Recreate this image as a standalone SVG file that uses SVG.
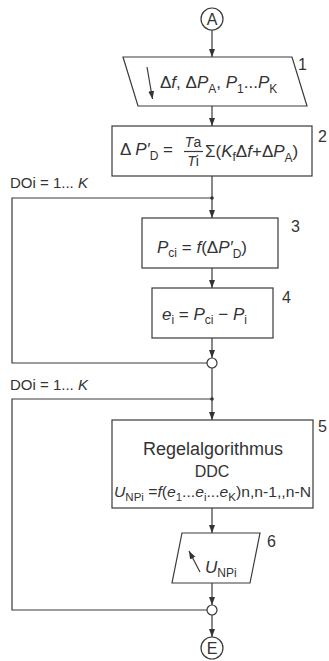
<svg xmlns="http://www.w3.org/2000/svg" width="329" height="661" viewBox="0 0 329 661">
<defs>
<marker id="arr" markerUnits="userSpaceOnUse" markerWidth="10" markerHeight="8" refX="8" refY="3" orient="auto">
<path d="M0,0 L8,3 L0,6 z" fill="#333"/>
</marker>
<style>
.ln{fill:none;stroke:#3a3a3a;stroke-width:1.2}
.sh{fill:#fff;stroke:#3a3a3a;stroke-width:1.2}
.t{font-family:"Liberation Sans",Arial,sans-serif;fill:#333}
.i{font-style:italic}
.lb{font-family:"Liberation Sans",Arial,sans-serif;fill:#333;font-size:16px}
</style>
</defs>
<rect width="329" height="661" fill="#fff"/>
<g id="connectors">
<line class="ln" x1="212" y1="30" x2="212" y2="57" marker-end="url(#arr)"/>
<line class="ln" x1="212" y1="106" x2="212" y2="126" marker-end="url(#arr)"/>
<line class="ln" x1="212" y1="176" x2="212" y2="218" marker-end="url(#arr)"/>
<line class="ln" x1="212" y1="268" x2="212" y2="288" marker-end="url(#arr)"/>
<line class="ln" x1="212" y1="338" x2="212" y2="358" marker-end="url(#arr)"/>
<line class="ln" x1="212" y1="368" x2="212" y2="420" marker-end="url(#arr)"/>
<line class="ln" x1="212" y1="508" x2="212" y2="533" marker-end="url(#arr)"/>
<line class="ln" x1="212" y1="583" x2="212" y2="605" marker-end="url(#arr)"/>
<line class="ln" x1="212" y1="615" x2="212" y2="637" marker-end="url(#arr)"/>
<path class="ln" d="M212,198 H12 V363 H207"/>
<path class="ln" d="M212,399 H12 V610 H207"/>
<circle cx="212" cy="198" r="1.8" fill="#333"/>
<circle cx="212" cy="399" r="1.8" fill="#333"/>
<text class="t" x="10" y="188" font-size="15">DOi = 1... <tspan class="i">K</tspan></text>
<text class="t" x="10" y="390" font-size="15">DOi = 1... <tspan class="i">K</tspan></text>
</g>
<g id="start">
<circle class="sh" cx="212" cy="19" r="11"/>
<text class="t" x="212" y="25" font-size="16" text-anchor="middle">A</text>
</g>
<g id="n1">
<polygon class="sh" points="123,57 292,57 307,106 138,106"/>
<line class="ln" x1="147" y1="67" x2="152.5" y2="99" marker-end="url(#arr)"/>
<text class="t" x="160" y="88" font-size="17">Δ<tspan class="i">f</tspan>, Δ<tspan class="i">P</tspan><tspan font-size="12" dy="5">A</tspan><tspan dy="-5">, </tspan><tspan class="i">P</tspan><tspan font-size="12" dy="5">1</tspan><tspan dy="-5">...</tspan><tspan class="i">P</tspan><tspan font-size="12" dy="5">K</tspan></text>
<text class="lb" x="298" y="70">1</text>
</g>
<g id="n2">
<rect class="sh" x="112" y="126" width="200" height="50"/>
<text class="t" x="120" y="155" font-size="17">Δ <tspan class="i">P′</tspan><tspan font-size="12" dy="5">D</tspan><tspan dy="-5"> =</tspan></text>
<text class="t" x="193" y="147" font-size="14" text-anchor="middle"><tspan class="i">T</tspan>a</text>
<line class="ln" x1="184" y1="151.5" x2="203" y2="151.5" stroke-width="0.8"/>
<text class="t" x="193" y="166" font-size="14" text-anchor="middle"><tspan class="i">T</tspan>i</text>
<text class="t" x="205" y="157" font-size="17">Σ(<tspan class="i">K</tspan><tspan font-size="12" dy="4">f</tspan><tspan dy="-4">Δ</tspan><tspan class="i">f</tspan>+Δ<tspan class="i">P</tspan><tspan font-size="12" dy="5">A</tspan><tspan dy="-5">)</tspan></text>
<text class="lb" x="318" y="142">2</text>
</g>
<g id="n3">
<rect class="sh" x="142" y="218" width="136" height="50"/>
<text class="t" x="157" y="253" font-size="17"><tspan class="i">P</tspan><tspan font-size="12" dy="4">ci</tspan><tspan dy="-4"> = </tspan><tspan class="i">f</tspan>(Δ<tspan class="i">P′</tspan><tspan font-size="12" dy="5">D</tspan><tspan dy="-5">)</tspan></text>
<text class="lb" x="291" y="232">3</text>
</g>
<g id="n4">
<rect class="sh" x="152" y="288" width="121" height="50"/>
<text class="t" x="162" y="320" font-size="17"><tspan class="i">e</tspan><tspan font-size="12" dy="4">i</tspan><tspan dy="-4"> = </tspan><tspan class="i">P</tspan><tspan font-size="12" dy="4">ci</tspan><tspan dy="-4"> − </tspan><tspan class="i">P</tspan><tspan font-size="12" dy="4">i</tspan></text>
<text class="lb" x="282" y="303">4</text>
</g>
<g id="j1">
<circle class="sh" cx="212" cy="363" r="5"/>
</g>
<g id="n5">
<rect class="sh" x="112" y="420" width="201" height="88"/>
<text class="t" x="213" y="455" font-size="18" text-anchor="middle">Regelalgorithmus</text>
<text class="t" x="212" y="477" font-size="16" text-anchor="middle">DDC</text>
<text class="t" x="114" y="497" font-size="15" textLength="197" lengthAdjust="spacingAndGlyphs"><tspan class="i">U</tspan><tspan font-size="11" dy="4">NPi</tspan><tspan dy="-4"> =</tspan><tspan class="i">f</tspan>(<tspan class="i">e</tspan><tspan font-size="11" dy="4">1</tspan><tspan dy="-4">...</tspan><tspan class="i">e</tspan><tspan font-size="11" dy="4">i</tspan><tspan dy="-4">...</tspan><tspan class="i">e</tspan><tspan font-size="11" dy="4">K</tspan><tspan dy="-4">)n,n-1,,n-N</tspan></text>
<text class="lb" x="318" y="432">5</text>
</g>
<g id="n6">
<polygon class="sh" points="182,533 260,533 250,583 172,583"/>
<line class="ln" x1="200" y1="572" x2="189" y2="551" marker-end="url(#arr)"/>
<text class="t" x="205" y="573" font-size="17"><tspan class="i">U</tspan><tspan font-size="12" dy="4">NPi</tspan></text>
<text class="lb" x="267" y="547">6</text>
</g>
<g id="j2">
<circle class="sh" cx="212" cy="610" r="5"/>
</g>
<g id="end">
<circle class="sh" cx="212" cy="648" r="11"/>
<text class="t" x="212" y="654" font-size="16" text-anchor="middle">E</text>
</g>
</svg>
